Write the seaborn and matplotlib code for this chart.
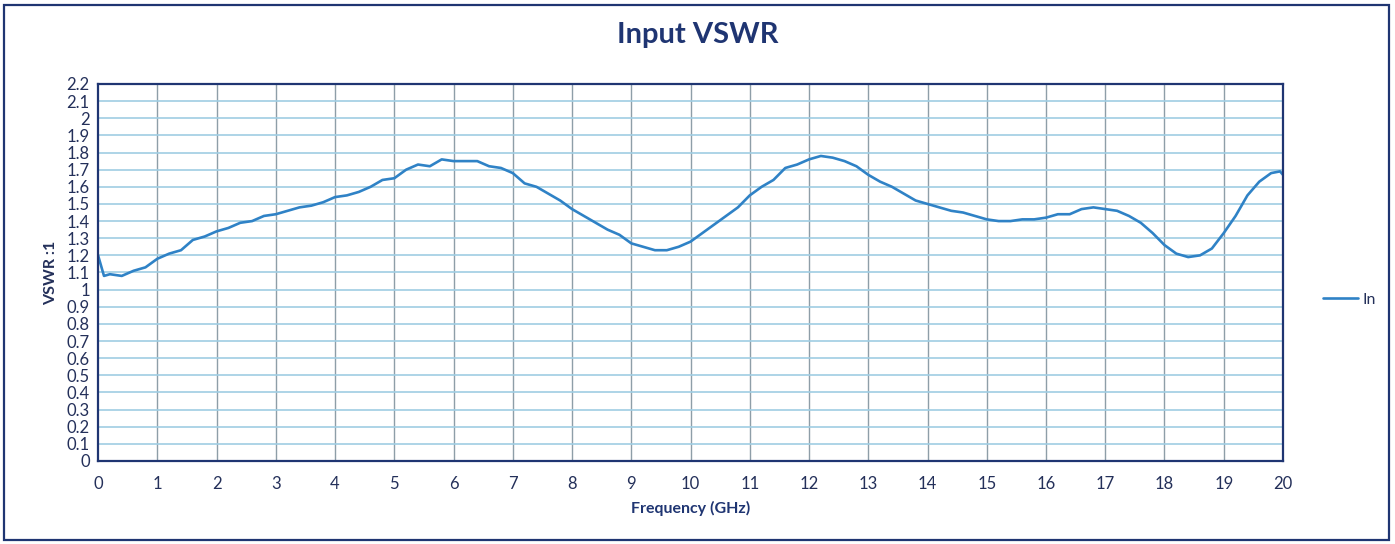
import matplotlib
matplotlib.use("Agg")
import matplotlib.pyplot as plt
from matplotlib.patches import Rectangle
import numpy as np
import pandas as pd
import seaborn as sns

# data
freq_ghz = [0.0, 0.1, 0.2, 0.4, 0.6, 0.8, 1.0, 1.2, 1.4, 1.6, 1.8, 2.0, 2.2, 2.4,
            2.6, 2.8, 3.0, 3.2, 3.4, 3.6, 3.8, 4.0, 4.2, 4.4, 4.6, 4.8, 5.0, 5.2,
            5.4, 5.6, 5.8, 6.0, 6.2, 6.4, 6.6, 6.8, 7.0, 7.2, 7.4, 7.6, 7.8, 8.0,
            8.2, 8.4, 8.6, 8.8, 9.0, 9.2, 9.4, 9.6, 9.8, 10.0, 10.2, 10.4, 10.6,
            10.8, 11.0, 11.2, 11.4, 11.6, 11.8, 12.0, 12.2, 12.4, 12.6, 12.8, 13.0,
            13.2, 13.4, 13.6, 13.8, 14.0, 14.2, 14.4, 14.6, 14.8, 15.0, 15.2, 15.4,
            15.6, 15.8, 16.0, 16.2, 16.4, 16.6, 16.8, 17.0, 17.2, 17.4, 17.6, 17.8,
            18.0, 18.2, 18.4, 18.6, 18.8, 19.0, 19.2, 19.4, 19.6, 19.8, 19.95, 20.0]
vswr_in = [1.20, 1.08, 1.09, 1.08, 1.11, 1.13, 1.18, 1.21, 1.23, 1.29, 1.31, 1.34, 1.36, 1.39,
           1.40, 1.43, 1.44, 1.46, 1.48, 1.49, 1.51, 1.54, 1.55, 1.57, 1.60, 1.64, 1.65, 1.70,
           1.73, 1.72, 1.76, 1.75, 1.75, 1.75, 1.72, 1.71, 1.68, 1.62, 1.60, 1.56, 1.52, 1.47,
           1.43, 1.39, 1.35, 1.32, 1.27, 1.25, 1.23, 1.23, 1.25, 1.28, 1.33, 1.38, 1.43,
           1.48, 1.55, 1.60, 1.64, 1.71, 1.73, 1.76, 1.78, 1.77, 1.75, 1.72, 1.67,
           1.63, 1.60, 1.56, 1.52, 1.50, 1.48, 1.46, 1.45, 1.43, 1.41, 1.40, 1.40,
           1.41, 1.41, 1.42, 1.44, 1.44, 1.47, 1.48, 1.47, 1.46, 1.43, 1.39, 1.33,
           1.26, 1.21, 1.19, 1.20, 1.24, 1.33, 1.43, 1.55, 1.63, 1.68, 1.69, 1.67]

x_ticks = list(range(0, 21))
y_ticks = [round(v * 0.1, 1) for v in range(0, 23)]

# colours
NAVY = "#1f3572"
LINE = "#2f82c6"
HGRID = "#9fcde3"
VGRID = "#8e9ea8"

sns.set_style("white")
plt.rcParams["font.family"] = ["Lato", "DejaVu Sans"]

df = pd.DataFrame({"Frequency (GHz)": freq_ghz, "VSWR": vswr_in})

fig = plt.figure(figsize=(13.95, 5.44), dpi=100)
ax = fig.add_axes([0.0703, 0.1526, 0.8494, 0.6930])

sns.lineplot(data=df, x="Frequency (GHz)", y="VSWR", ax=ax, color=LINE,
             linewidth=1.9, label="In", legend=False)

ax.set_xlim(0, 20)
ax.set_ylim(0, 2.2)
ax.set_xticks(x_ticks)
ax.set_yticks(y_ticks)
ax.set_xticklabels([str(t) for t in x_ticks])
ax.set_yticklabels([f"{t:g}" for t in y_ticks])
ax.tick_params(axis="both", length=0, labelsize=12, colors="#24305a")
ax.tick_params(axis="x", pad=11)
ax.tick_params(axis="y", pad=6)

# grid: vertical grey, horizontal light blue
for t in x_ticks[1:-1]:
    ax.axvline(t, color=VGRID, linewidth=1.0, zorder=0)
for t in y_ticks[1:-1]:
    ax.axhline(t, color=HGRID, linewidth=1.2, zorder=0)

for s in ax.spines.values():
    s.set_color(NAVY)
    s.set_linewidth(1.6)
    s.set_visible(True)

ax.set_xlabel("Frequency (GHz)", fontsize=11.5, fontweight="bold", color=NAVY, labelpad=6)
ax.set_ylabel("VSWR :1", fontsize=11.5, fontweight="bold", color="#24305a", labelpad=6)
fig.suptitle("Input VSWR", x=0.5, y=0.96, fontsize=21, fontweight="bold", color=NAVY)

handles, labels = ax.get_legend_handles_labels()
fig.legend(handles, labels, loc="center left", bbox_to_anchor=(0.938, 0.449),
           frameon=False, fontsize=11.5, handlelength=2.2, handletextpad=0.3,
           labelcolor="#24305a")

# outer frame round the figure
fig.patches.append(Rectangle((0.003, 0.008), 0.993, 0.982, transform=fig.transFigure,
                             fill=False, edgecolor=NAVY, linewidth=1.6))

fig.savefig("out.png", dpi=100)
